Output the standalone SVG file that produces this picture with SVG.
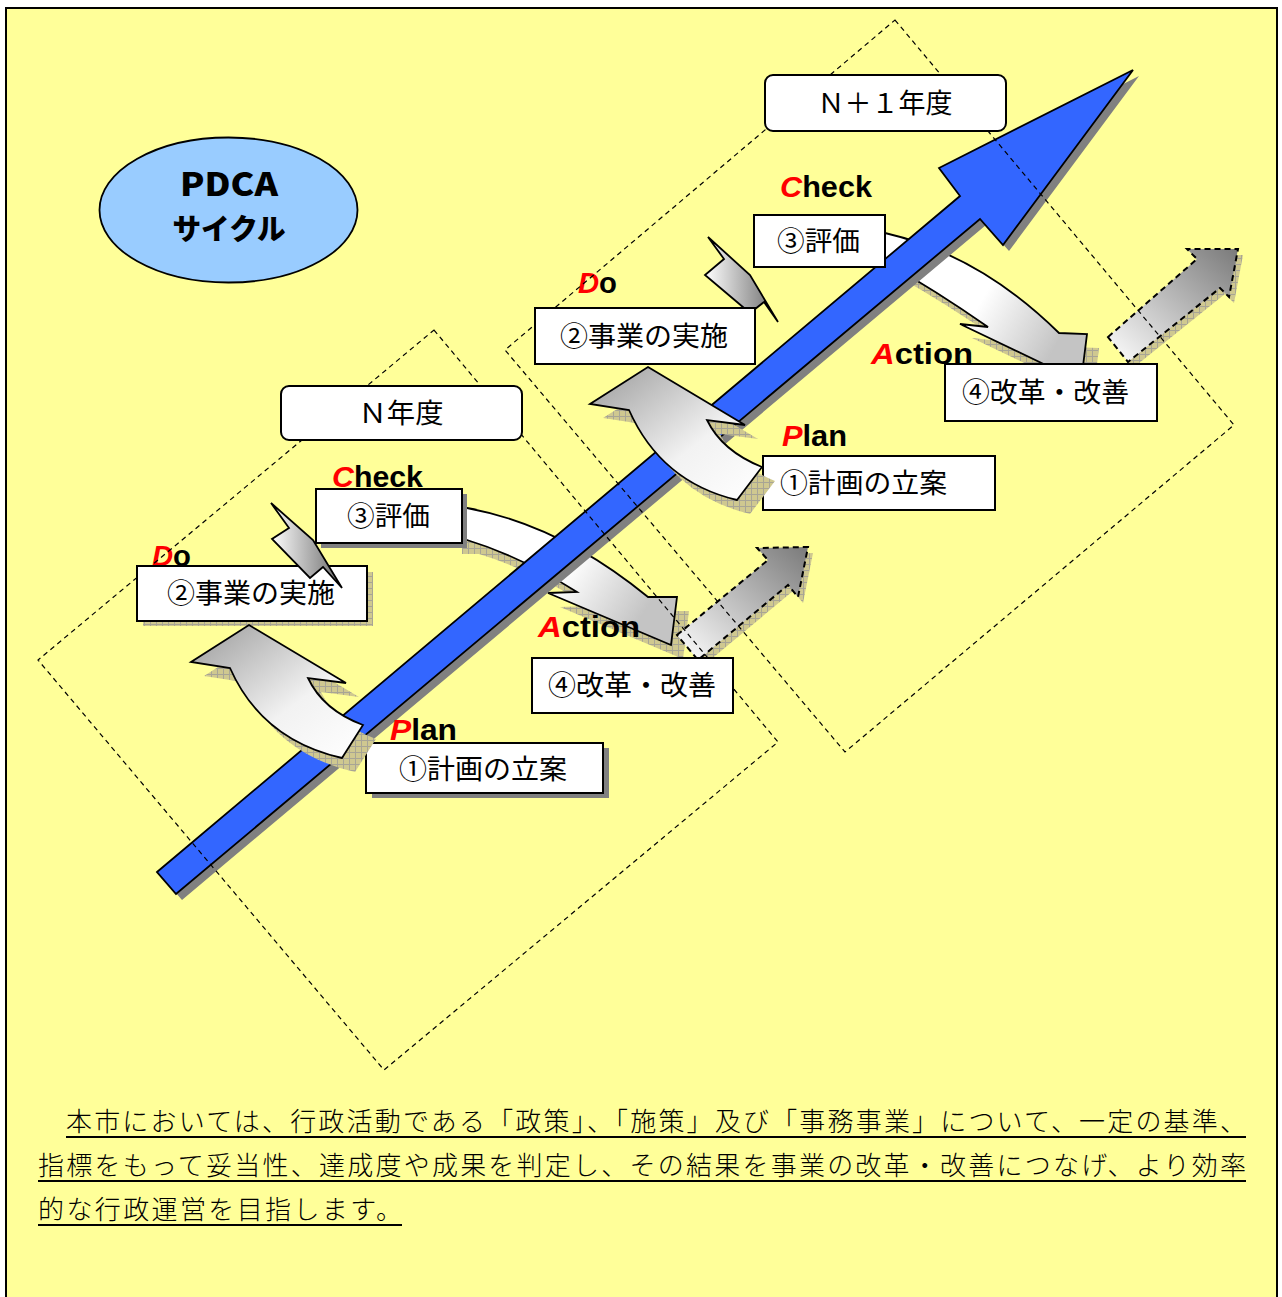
<svg xmlns="http://www.w3.org/2000/svg" width="1282" height="1297" viewBox="0 0 1282 1297">
<style>
.box{fill:#fff;stroke:#000;stroke-width:2}
.lbl{font-family:"Noto Sans CJK JP","Noto Sans",sans-serif;font-size:27px;fill:#000}
.pd{font-family:"Liberation Sans",Arial,sans-serif;font-weight:bold;font-size:29px;fill:#000}
.red{fill:#ff0000;font-style:italic}
.dash{fill:none;stroke:#000;stroke-width:1.2;stroke-dasharray:5 4}
.arr{stroke:#000;stroke-width:1.8;stroke-linejoin:miter}
.body{font-family:"Noto Sans CJK JP",sans-serif;font-size:26px;fill:#000;font-weight:300}
.ul{stroke:#000;stroke-width:2}
</style>
<defs>
<pattern id="chk" width="6" height="6" patternUnits="userSpaceOnUse">
<rect width="6" height="6" fill="#cfc890"/>
<path d="M0,0.5H6M0.5,0V6" stroke="#a8a595" stroke-width="1"/>
</pattern>
<linearGradient id="gPD" x1="0" y1="0" x2="1" y2="1">
<stop offset="0" stop-color="#9a9a9a"/><stop offset="0.6" stop-color="#f2f2f2"/><stop offset="1" stop-color="#ffffff"/>
</linearGradient>
<linearGradient id="gCA" x1="0" y1="0" x2="1" y2="0.4">
<stop offset="0" stop-color="#ffffff"/><stop offset="0.6" stop-color="#ffffff"/><stop offset="1" stop-color="#c4c4c4"/>
</linearGradient>
<linearGradient id="gDC" x1="0" y1="0" x2="1" y2="0">
<stop offset="0" stop-color="#ffffff"/><stop offset="1" stop-color="#6a6a6a"/>
</linearGradient>
<linearGradient id="gNX" x1="0" y1="1" x2="1" y2="0">
<stop offset="0" stop-color="#ffffff"/><stop offset="1" stop-color="#7a7a7a"/>
</linearGradient>
</defs>

<g id="frame">
<rect x="6" y="8" width="1271" height="1300" fill="#ffff99" stroke="#000" stroke-width="2"/>
</g>

<g id="pdca-ellipse">
<ellipse cx="228.5" cy="210" rx="129" ry="72.5" fill="#99ccff" stroke="#000" stroke-width="1.8"/>
<text x="229" y="196" text-anchor="middle" textLength="98" lengthAdjust="spacingAndGlyphs" style="font-family:'Noto Sans CJK JP',sans-serif;font-weight:900;font-size:32px">PDCA</text>
<text x="229" y="240" text-anchor="middle" textLength="113" lengthAdjust="spacingAndGlyphs" style="font-family:'Noto Sans CJK JP',sans-serif;font-weight:900;font-size:29px">サイクル</text>
</g>

<g id="connectors">
<g id="arrow-check-action-n">
<path transform="translate(12,14)" fill="url(#chk)" d="M450,507 L467,508 Q560,525 648,597 L677,597 L671,645 L548,593 L577,592 Q520,556 467,540 L450,540 Z"/>
<path class="arr" fill="url(#gCA)" d="M450,507 L467,508 Q560,525 648,597 L677,597 L671,645 L548,593 L577,592 Q520,556 467,540 L450,540 Z"/>
</g>
<g id="arrow-check-action-n1">
<path transform="translate(12,14)" fill="url(#chk)" d="M870,232 L885,233 Q980,255 1059,333 L1087,334 L1081,382 L960,324 L988,327 Q935,290 885,262 L870,262 Z"/>
<path class="arr" fill="url(#gCA)" d="M870,232 L885,233 Q980,255 1059,333 L1087,334 L1081,382 L960,324 L988,327 Q935,290 885,262 L870,262 Z"/>
</g>
<g id="arrow-do-check-n1">
<path class="arr" fill="url(#gDC)" d="M708,237 L750,275 L778,322 L764,302 L750,313 L705,275 L724,259 Z"/>
</g>
<g id="main-arrow">
<polygon transform="translate(6,6)" fill="#808080" points="157,872 960,196 939,168 1133,70 1003,245 980,219 176,894"/>
<polygon fill="#3366ff" stroke="#000" stroke-width="1.8" stroke-linejoin="miter" points="157,872 960,196 939,168 1133,70 1003,245 980,219 176,894"/>
</g>
<g id="arrow-next-n">
<path transform="translate(5,6)" fill="url(#chk)" d="M677,635 L768,560 L757,548 L808,547 L798,597 L788,585 L698,660 Z"/>
<path fill="url(#gNX)" stroke="#000" stroke-width="2" stroke-dasharray="6 4" d="M677,635 L768,560 L757,548 L808,547 L798,597 L788,585 L698,660 Z"/>
</g>
<g id="arrow-next-n1">
<path transform="translate(5,6)" fill="url(#chk)" d="M1108,337 L1197,259 L1187,249 L1238,249 L1229,297 L1220,288 L1128,362 Z"/>
<path fill="url(#gNX)" stroke="#000" stroke-width="2" stroke-dasharray="6 4" d="M1108,337 L1197,259 L1187,249 L1238,249 L1229,297 L1220,288 L1128,362 Z"/>
</g>
</g>

<g id="pdca-labels">
<text class="pd" x="152" y="566" textLength="39" lengthAdjust="spacingAndGlyphs"><tspan class="red">D</tspan>o</text>
<text class="pd" x="332" y="487" textLength="91" lengthAdjust="spacingAndGlyphs"><tspan class="red">C</tspan>heck</text>
<text class="pd" x="538" y="637" textLength="102" lengthAdjust="spacingAndGlyphs"><tspan class="red">A</tspan>ction</text>
<text class="pd" x="390" y="740" textLength="67" lengthAdjust="spacingAndGlyphs"><tspan class="red">P</tspan>lan</text>
<text class="pd" x="578" y="293" textLength="39" lengthAdjust="spacingAndGlyphs"><tspan class="red">D</tspan>o</text>
<text class="pd" x="780" y="197" textLength="92" lengthAdjust="spacingAndGlyphs"><tspan class="red">C</tspan>heck</text>
<text class="pd" x="871" y="364" textLength="102" lengthAdjust="spacingAndGlyphs"><tspan class="red">A</tspan>ction</text>
<text class="pd" x="782" y="446" textLength="65" lengthAdjust="spacingAndGlyphs"><tspan class="red">P</tspan>lan</text>
</g>

<g id="year-areas">
<polygon class="dash" points="434,330 778,742 384,1070 38,660"/>
<polygon class="dash" points="895,20 1234,425 845,752 505,350"/>
</g>

<g id="year-n">
<rect x="281" y="386" width="241" height="54" rx="8" class="box"/>
<text class="lbl" x="401" y="423" text-anchor="middle" textLength="85" lengthAdjust="spacingAndGlyphs">Ｎ年度</text>
</g>
<g id="year-n1">
<rect x="765" y="75" width="241" height="56" rx="8" class="box"/>
<text class="lbl" x="885" y="113" text-anchor="middle" textLength="135" lengthAdjust="spacingAndGlyphs">Ｎ＋１年度</text>
</g>

<g id="n-do">
<rect x="143" y="572" width="230" height="54" fill="url(#chk)"/>
<rect x="137" y="566" width="230" height="55" class="box"/>
<text class="lbl" x="167" y="603" textLength="168" lengthAdjust="spacingAndGlyphs">②事業の実施</text>
</g>
<g id="n-check">
<rect x="321" y="494" width="146" height="54" fill="#808080"/>
<rect x="316" y="489" width="146" height="54" class="box"/>
<text class="lbl" x="347" y="526" textLength="83" lengthAdjust="spacingAndGlyphs">③評価</text>
</g>
<g id="n-plan">
<rect x="372" y="748" width="237" height="50" fill="#808080"/>
<rect x="366" y="743" width="237" height="50" class="box"/>
<text class="lbl" x="399" y="779" textLength="168" lengthAdjust="spacingAndGlyphs">①計画の立案</text>
</g>
<g id="n-action">
<rect x="532" y="658" width="201" height="55" class="box"/>
<text class="lbl" x="548" y="695" textLength="168" lengthAdjust="spacingAndGlyphs">④改革・改善</text>
</g>

<g id="n1-do">
<rect x="535" y="308" width="220" height="56" class="box"/>
<text class="lbl" x="560" y="346" textLength="168" lengthAdjust="spacingAndGlyphs">②事業の実施</text>
</g>
<g id="n1-check">
<rect x="754" y="215" width="131" height="52" class="box"/>
<text class="lbl" x="777" y="251" textLength="83" lengthAdjust="spacingAndGlyphs">③評価</text>
</g>
<g id="n1-action">
<rect x="945" y="364" width="212" height="57" class="box"/>
<text class="lbl" x="962" y="402" textLength="167" lengthAdjust="spacingAndGlyphs">④改革・改善</text>
</g>
<g id="n1-plan">
<rect x="763" y="456" width="232" height="54" class="box"/>
<text class="lbl" x="780" y="493" textLength="167" lengthAdjust="spacingAndGlyphs">①計画の立案</text>
</g>

<g id="connectors-front">
<g id="arrow-do-check-n">
<path class="arr" fill="url(#gDC)" d="M271,503 L313,540 L342,588 L323,567 L310,578 L272,539 L289,528 Z"/>
</g>
<g id="arrow-plan-do-n">
<path transform="translate(13,14)" fill="url(#chk)" d="M249,625 L346,683 L308,678 Q323,710 363,725 L342,758 Q262,740 230,668 L191,662 Z"/>
<path class="arr" fill="url(#gPD)" d="M249,625 L346,683 L308,678 Q323,710 363,725 L342,758 Q262,740 230,668 L191,662 Z"/>
</g>
<g id="arrow-plan-do-n1">
<path transform="translate(13,14)" fill="url(#chk)" d="M648,367 L745,425 L707,420 Q722,451 762,467 L737,500 Q661,482 629,410 L590,404 Z"/>
<path class="arr" fill="url(#gPD)" d="M648,367 L745,425 L707,420 Q722,451 762,467 L737,500 Q661,482 629,410 L590,404 Z"/>
</g>
</g>

<g id="description">
<text class="body" x="66" y="1131" textLength="1180" lengthAdjust="spacing">本市においては、行政活動である「政策」、「施策」及び「事務事業」について、一定の基準、</text>
<text class="body" x="38" y="1175" textLength="1208" lengthAdjust="spacing">指標をもって妥当性、達成度や成果を判定し、その結果を事業の改革・改善につなげ、より効率</text>
<text class="body" x="38" y="1219" textLength="364" lengthAdjust="spacing">的な行政運営を目指します。</text>
<line class="ul" x1="66" y1="1137" x2="1246" y2="1137"/>
<line class="ul" x1="38" y1="1181" x2="1246" y2="1181"/>
<line class="ul" x1="38" y1="1225" x2="402" y2="1225"/>
</g>
</svg>
